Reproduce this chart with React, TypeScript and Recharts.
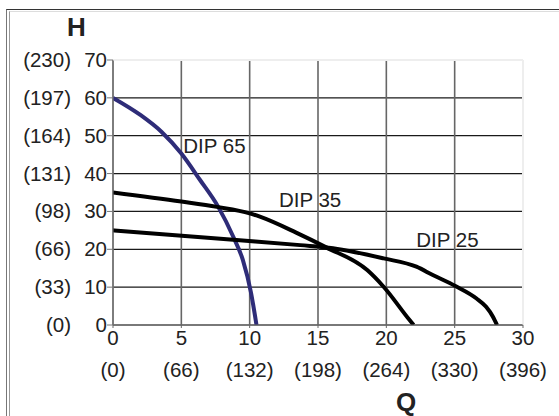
import { LineChart, Line, XAxis, YAxis, CartesianGrid, ReferenceLine, ReferenceDot } from "recharts";

const qTicks = [0, 5, 10, 15, 20, 25, 30];
const qAltLabels = ["(0)", "(66)", "(132)", "(198)", "(264)", "(330)", "(396)"];
const hTicks = [0, 10, 20, 30, 40, 50, 60, 70];
const hAltLabels = ["(0)", "(33)", "(66)", "(98)", "(131)", "(164)", "(197)", "(230)"];

const dip65Q = [0, 2, 3.56, 5, 6.37, 7.7, 8.8, 9.5, 10.1, 10.5];
const dip65H = [60, 55.5, 51, 45.3, 38.3, 31.2, 23.3, 17.2, 8.5, 0];

const dip35Q = [0, 5, 7.6, 10, 10.75, 13.4, 15.6, 18.6, 19.8, 21.7, 22];
const dip35H = [35, 32.6, 31.2, 29.5, 28.6, 24.4, 20.5, 14.5, 10.1, 1.3, 0];

const dip25Q = [0, 8.8, 13.7, 16.1, 19.8, 22.2, 23.4, 25.05, 26.6, 27.3, 27.8, 28.1];
const dip25H = [25, 22.5, 21.1, 20.3, 17.6, 15.4, 13.2, 10.3, 7.0, 4.8, 2.2, 0];

const toRows = (qs: number[], hs: number[]) => qs.map((q, i) => ({ q, h: hs[i] }));

const font = "'Liberation Sans', Arial, sans-serif";
const ink = "#222";

function XTick(props: any) {
  const { x, payload } = props;
  const i = qTicks.indexOf(payload.value);
  return (
    <g>
      <text x={x} y={345} textAnchor="middle" fontSize={20.5} fill={ink} fontFamily={font}>
        {payload.value}
      </text>
      <text x={x} y={377} textAnchor="middle" fontSize={20.5} fill={ink} fontFamily={font}>
        {qAltLabels[i]}
      </text>
    </g>
  );
}

function YTick(props: any) {
  const { y, payload } = props;
  const i = hTicks.indexOf(payload.value);
  return (
    <g>
      <text x={107} y={y + 7} textAnchor="end" fontSize={20.5} fill={ink} fontFamily={font}>
        {payload.value}
      </text>
      <text x={71} y={y + 7} textAnchor="end" fontSize={20.5} fill={ink} fontFamily={font}>
        {hAltLabels[i]}
      </text>
    </g>
  );
}

const curveLabel = (text: string) => ({
  value: text,
  position: "right" as const,
  offset: 4,
  fontSize: 20.5,
  fill: ink,
  fontFamily: font,
});

export default function App() {
  return (
    <div style={{ position: "absolute", left: 0, top: 0, width: 559, height: 416, background: "#fff", overflow: "hidden" }}>
      <div style={{ position: "absolute", left: 6, top: 9, right: -4, bottom: -4, borderTop: "1.5px solid #333", borderLeft: "1.5px solid #777" }} />
      <div style={{ position: "absolute", left: 9, top: 11, right: -4, bottom: -4, borderTop: "1px solid #ddd", borderLeft: "1.5px solid #999" }} />
      <div style={{ position: "absolute", left: 67, top: 12, fontFamily: font, fontWeight: "bold", fontSize: 26, color: ink }}>H</div>
      <div style={{ position: "absolute", left: 396, top: 387, fontFamily: font, fontWeight: "bold", fontSize: 26, color: ink }}>Q</div>
      <LineChart width={559} height={416} margin={{ top: 60, right: 36, bottom: 0, left: 0 }}>
        <CartesianGrid vertical={false} stroke="#1a1a1a" strokeWidth={1.2} />
        <CartesianGrid horizontal={false} stroke="#666" strokeWidth={1.6} />
        <ReferenceLine y={70} stroke="#eee" strokeWidth={2} />
        <ReferenceLine x={30} stroke="#eee" strokeWidth={2} />
        <XAxis
          type="number"
          dataKey="q"
          domain={[0, 30]}
          ticks={qTicks}
          height={91}
          tickSize={3}
          stroke="#666"
          tick={<XTick />}
          allowDataOverflow
        />
        <YAxis
          type="number"
          dataKey="h"
          domain={[0, 70]}
          ticks={hTicks}
          width={113}
          tickSize={6}
          tickMargin={0}
          stroke="#777"
          tick={<YTick />}
          allowDataOverflow
        />
        <Line data={toRows(dip65Q, dip65H)} dataKey="h" type="monotone" stroke="#2e2c78" strokeWidth={4} dot={false} isAnimationActive={false} />
        <Line data={toRows(dip35Q, dip35H)} dataKey="h" type="monotone" stroke="#000" strokeWidth={4} dot={false} isAnimationActive={false} />
        <Line data={toRows(dip25Q, dip25H)} dataKey="h" type="monotone" stroke="#000" strokeWidth={4} dot={false} isAnimationActive={false} />
        <ReferenceDot x={4.85} y={47.3} r={0} stroke="none" fill="none" label={curveLabel("DIP 65")} />
        <ReferenceDot x={11.85} y={33} r={0} stroke="none" fill="none" label={curveLabel("DIP 35")} />
        <ReferenceDot x={21.9} y={22.4} r={0} stroke="none" fill="none" label={curveLabel("DIP 25")} />
      </LineChart>
    </div>
  );
}
